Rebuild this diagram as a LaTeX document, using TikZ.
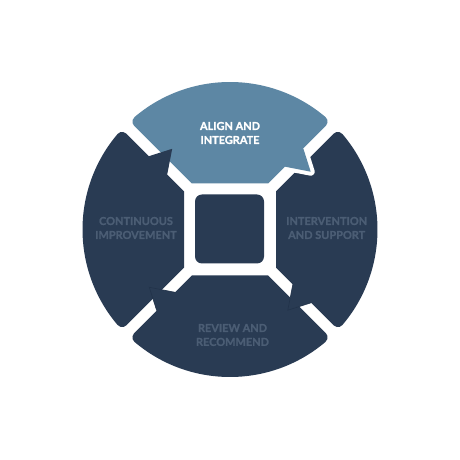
\documentclass[tikz,border=0pt]{standalone}
\usepackage{fontspec}
\newfontfamily\lato{Lato}[BoldFeatures={FakeBold=1.3}]
\definecolor{navy}{HTML}{293B53}
\definecolor{steel}{HTML}{5D87A4}
\definecolor{dimtext}{HTML}{4B5D74}
\definecolor{barbline}{HTML}{22334A}
\newcommand\segpath{(-38.2,46) -- (-95.83,103.61) arc[start angle=225,end angle=130.34,radius=6bp] arc[start angle=130.34,end angle=49.66,radius=147.5bp] arc[start angle=49.66,end angle=-45,radius=6bp] -- (38.2,46) -- cycle}
\newcommand\barbpoly{(69.06,85.34) -- (73.3,81.1) -- (80.7,57.8) -- (55,62.8) -- (50.76,67.04) -- cycle}
\newcommand\barbedge{(73.3,81.1) -- (80.7,57.8) -- (55,62.8)}
\tikzset{
  lbl/.style={align=center, inner sep=0pt, font=\lato\bfseries\fontsize{11}{14}\selectfont},
  toptext/.style={lbl, text=white},
  segtext/.style={lbl, text=dimtext}
}
\begin{document}
\begin{tikzpicture}[x=1bp,y=1bp]
\useasboundingbox (-230,-230.5) rectangle (230,229.5);
\fill[white] (-230,-230.5) rectangle (230,229.5);
% base segments
\foreach \ang/\col in {0/steel,-90/navy,-180/navy,-270/navy}{
  \begin{scope}[rotate=\ang]
    \fill[\col] \segpath;
  \end{scope}
}
% barb of the top segment, cut into the right one
\draw[white, line width=8bp, line join=round] \barbedge;
\fill[steel] \barbpoly;
% barbs of the dark segments
\foreach \ang in {-90,-180}{
  \begin{scope}[rotate=\ang]
    \fill[navy] \barbpoly;
    \draw[barbline, line width=0.6bp] \barbedge;
  \end{scope}
}
\begin{scope}[rotate=-270]
  \fill[navy] \barbpoly;
\end{scope}
% centre square
\fill[navy, rounded corners=7bp] (-35,-34) rectangle (34,35);
% labels
\node[toptext] (t1) at (0,96.5) {ALIGN AND\\INTEGRATE};
\node[segtext] (t2) at (96.7,1.5) {INTERVENTION\\AND SUPPORT};
\node[segtext] (t3) at (2.5,-105.5) {REVIEW AND\\RECOMMEND};
\node[segtext] (t4) at (-94,1.5) {CONTINUOUS\\IMPROVEMENT};
\end{tikzpicture}
\end{document}
